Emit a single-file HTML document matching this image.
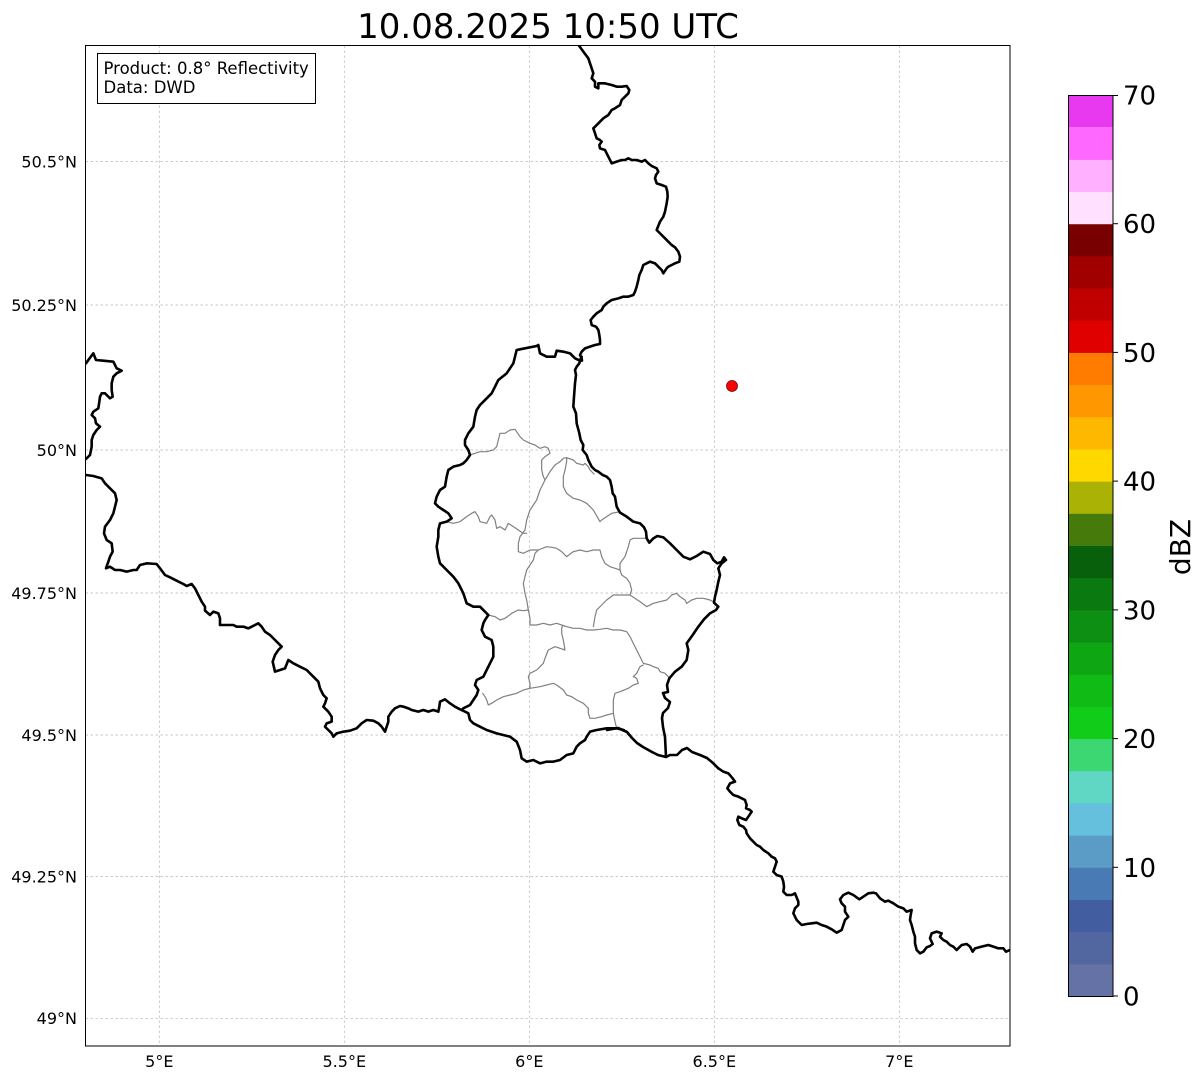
<!DOCTYPE html>
<html>
<head>
<meta charset="utf-8">
<style>
html,body{margin:0;padding:0;background:#fff;}
svg{display:block;}
text{font-family:"DejaVu Sans","Liberation Sans",sans-serif;fill:#000;}
</style>
</head>
<body>
<svg width="1202" height="1081" viewBox="0 0 1202 1081" xmlns="http://www.w3.org/2000/svg">
<defs>
<clipPath id="plot"><rect x="85.5" y="45.5" width="924.5" height="1000.5"/></clipPath>
</defs>
<rect x="0" y="0" width="1202" height="1081" fill="#fff"/>

<!-- Title -->
<text x="548" y="38" font-size="34" text-anchor="middle">10.08.2025 10:50 UTC</text>

<!-- Gridlines -->
<g stroke="#b5b5b5" stroke-width="0.7" stroke-dasharray="2.5,2.5" fill="none">
<line x1="159.3" y1="45.5" x2="159.3" y2="1046"/>
<line x1="344.3" y1="45.5" x2="344.3" y2="1046"/>
<line x1="529.3" y1="45.5" x2="529.3" y2="1046"/>
<line x1="714.3" y1="45.5" x2="714.3" y2="1046"/>
<line x1="899.3" y1="45.5" x2="899.3" y2="1046"/>
<line x1="85.5" y1="161.5" x2="1010" y2="161.5"/>
<line x1="85.5" y1="305" x2="1010" y2="305"/>
<line x1="85.5" y1="450" x2="1010" y2="450"/>
<line x1="85.5" y1="593" x2="1010" y2="593"/>
<line x1="85.5" y1="735" x2="1010" y2="735"/>
<line x1="85.5" y1="876.5" x2="1010" y2="876.5"/>
<line x1="85.5" y1="1018.3" x2="1010" y2="1018.3"/>
</g>

<g clip-path="url(#plot)" fill="none" stroke-linejoin="round" stroke-linecap="round">
<!-- Luxembourg canton boundaries (gray) -->
<g transform="translate(420 330) scale(0.333333)" stroke="#808080" stroke-width="1.2">
<polyline vector-effect="non-scaling-stroke" points="150,375 165,370 180,365 200,365 220,360 230,350 235,330 240,310 255,310 270,300 285,298 300,320 310,330 330,340 345,345 360,355 375,350 385,355 390,370 375,380 365,390 365,420 370,440 375,450 360,480 350,510 330,540 320,570 315,600 300,620 295,640 295,665 310,670 330,660 355,660"/>
<polyline vector-effect="non-scaling-stroke" points="375,450 390,425 405,405 420,395 430,385 440,383 440,395 435,420 430,440 430,470 440,490 460,505 480,510 500,520 520,540 540,575 545,570 560,560 575,550 595,546"/>
<polyline vector-effect="non-scaling-stroke" points="440,383 460,390 470,400 490,405 495,400 505,410 510,420 522,432"/>
<polyline vector-effect="non-scaling-stroke" points="80,575 100,580 120,575 140,560 155,550 165,545 175,560 180,575 200,580 210,560 215,555 225,570 230,595 240,590 255,600 265,580 280,590 295,600 310,610 320,610"/>
<polyline vector-effect="non-scaling-stroke" points="355,660 380,650 395,652 410,655 425,665 440,680 460,665 480,660 500,665 520,660 540,660 545,680 555,700 570,710 585,715 600,720 600,700 615,680 625,650 630,630 640,625 665,625 682,625"/>
<polyline vector-effect="non-scaling-stroke" points="600,720 605,735 620,745 630,760 635,780 630,795 600,795 580,795 560,810 545,825 530,840 525,860 520,890"/>
<polyline vector-effect="non-scaling-stroke" points="630,795 645,805 660,815 680,830 700,820 720,815 740,810 755,795 770,790 780,800 795,810 800,820 815,810 830,805 850,805 870,810 880,815 890,825"/>
<polyline vector-effect="non-scaling-stroke" points="355,660 345,670 340,690 330,705 320,720 315,740 310,760 315,790 320,810 325,840 310,842 295,840 275,850 255,865 240,870 225,860 205,855"/>
<polyline vector-effect="non-scaling-stroke" points="325,840 330,865 330,885 350,885 370,880 390,885 410,880 425,885 440,890 460,895 480,895 500,900 520,900 540,898 560,895 580,900 600,900 620,905 630,920 640,940 650,960 660,980 670,1000 690,1005 700,1010 715,1015 720,1025 735,1030 745,1040"/>
<polyline vector-effect="non-scaling-stroke" points="428,887 425,895 425,910 430,930 435,960 420,955 405,950 385,960 375,985 370,1000 360,1010 350,1020 330,1030 325,1040 330,1060 330,1075 310,1080 290,1090 270,1095 250,1100 230,1110 215,1120 205,1125 200,1110 195,1100 188,1090"/>
<polyline vector-effect="non-scaling-stroke" points="330,1075 360,1070 380,1065 400,1060 410,1065 430,1080 440,1095 455,1100 470,1110 490,1120 505,1135 505,1150 510,1165 525,1165 545,1160 560,1155 580,1150 580,1130 580,1110 585,1090 600,1085 625,1075 640,1065 655,1060 650,1045 640,1040 650,1030 660,1010 670,1005"/>
<polyline vector-effect="non-scaling-stroke" points="580,1150 585,1175 590,1195"/>
</g>

<!-- Black borders: Luxembourg -->
<g transform="translate(420 330) scale(0.333333)" stroke="#000">
<polyline vector-effect="non-scaling-stroke" stroke-width="2.6" points="125,1140 130,1135 150,1125 160,1110 170,1095 175,1080 165,1065 170,1050 190,1040 200,1020 210,1000 220,980 220,950 215,930 195,920 185,900 190,880 195,870 205,855 195,845 180,830 160,830 140,820 130,790 115,760 100,740 80,720 60,700 55,680 50,650 55,620 55,600 60,580 80,575 95,565 85,550 70,540 55,530 45,520 50,500 60,480 75,470 80,440 85,420 100,410 120,405 130,400 140,390 150,375 145,360 135,345 135,330 145,310 160,290 165,260 170,240 180,225 190,215 205,200 215,190 225,170 235,150 260,130 280,100 285,80 290,60 300,58 350,48 355,45 360,70 380,80 405,80 410,62 430,65 450,70 465,85 480,92"/>
<polyline vector-effect="non-scaling-stroke" stroke-width="2.6" points="125,1140 145,1150 150,1170 160,1180 180,1190 200,1200 230,1210 270,1220 290,1235 300,1260 305,1285 320,1295 340,1290 360,1300 380,1295 400,1295 420,1290 440,1275 460,1270 470,1250 480,1240 495,1230 500,1220 510,1205 530,1200 560,1195 590,1195 611,1200"/>
<polyline vector-effect="non-scaling-stroke" stroke-width="2.6" points="485,80 480,92 478,100 470,110 465,120 468,135 465,160 462,200 460,230 468,250 470,280 478,310 482,330 490,345 488,360 500,375 505,390 515,410 525,420 535,425 548,435 560,440 570,450 575,470 578,490 585,500 590,530 600,548 620,560 640,575 660,580 672,592 678,605 680,625 688,638 700,625 712,618 730,622 750,640 770,660 790,680 810,688 830,678 850,665 870,672 880,690 892,700 905,695 912,682 918,690 905,700 895,715 900,735 895,755 890,780 885,800 882,818 895,830 888,840 870,850 852,868 835,890 818,915 800,940 805,960 800,990 785,1010 765,1025 748,1045"/>
</g>
<!-- Moselle / southern junction (page coords) -->
<g stroke="#000" stroke-width="2.6">
<polyline points="669.3,678.3 667,685 668,692 663,693 665,698 670,702 668,708 663,713 662,718 663,727 665,737 666,757"/>
<polyline points="607,730 618,728 627,732 632,738 637,743 643,747 652,752 658,755 666,757 670,755 677,755 682,750 687,748 692,752 700,755 707,758 713,763 718.3,768.3"/>
</g>

<!-- Black borders: Belgium-Germany north -->
<g transform="translate(540 40) scale(0.333333)" stroke="#000">
<polyline vector-effect="non-scaling-stroke" stroke-width="2.6" points="112,10 130,35 145,55 150,70 155,85 160,100 155,115 165,125 165,140 175,145 175,130 195,130 215,135 230,140 245,140 260,138 268,150 265,160 255,170 245,180 240,195 225,205 215,210 205,225 190,235 180,245 165,260 160,265 165,280 170,295 180,300 185,305 178,315 180,325 195,330 200,340 205,350 215,370 230,365 245,360 255,360 265,355 275,360 290,360 305,365 315,360 325,370 335,378 350,385 355,395 348,405 345,415 350,430 365,435 378,440 382,455 383,470 380,490 375,515 370,530 360,545 350,570 365,585 375,595 385,605 395,615 405,622 415,635 420,650 418,665 405,670 395,675 385,680 380,685 370,700 365,690 355,680 345,670 330,665 320,670 310,675 305,690 298,705 295,720 290,740 285,755 280,765 265,770 250,770 235,775 215,780 200,790 190,800 185,810 170,820 160,830 152,840 155,855 168,860 175,870 178,885 180,900 180,912 165,915 150,920 135,925 125,935 120,945 125,955 126,962"/>
</g>

<!-- Black borders: West (France-Belgium) -->
<g transform="translate(80 340) scale(0.333333)" stroke="#000">
<polyline vector-effect="non-scaling-stroke" stroke-width="2.6" points="10,75 18,70 25,60 40,40 48,60 70,62 100,65 110,85 125,92 110,100 100,110 95,130 95,150 98,170 90,175 80,165 75,160 65,160 60,170 58,185 55,205 40,215 35,225 45,235 48,250 60,260 50,270 40,285 35,300 35,320 30,345 20,355 10,362"/>
<polyline vector-effect="non-scaling-stroke" stroke-width="2.6" points="10,405 18,405 40,408 65,415 75,430 90,445 105,460 110,480 105,500 100,520 90,540 75,560 72,580 80,600 95,610 98,635 90,650 85,665 78,685 90,680 105,690 120,690 140,695 160,690 170,690 180,675 200,670 230,672 240,685 255,705 270,712 290,722 310,732 320,738 335,732 345,745 355,765 365,785 375,800 375,812 390,825 400,815 415,820 420,835 420,855 440,855 460,855 470,860 490,860 505,865 515,860 525,855 535,850 545,860 555,875 570,885 585,900 595,910 605,920 595,930 585,945 578,965 585,995 600,990 615,985 625,960 640,970 660,980 680,990 700,1010 715,1025 720,1045 730,1065 740,1075 735,1090 730,1100 745,1115 755,1130 755,1145 740,1150 735,1160 745,1170 755,1180 760,1190 770,1180 790,1175 810,1172 830,1165 845,1150 860,1140 880,1142 895,1150 905,1160 915,1175 920,1160 925,1145 925,1130 935,1115 945,1105 960,1098 970,1100 985,1105 995,1110 1015,1115 1030,1110 1045,1115 1060,1110 1075,1115 1078,1100 1080,1085 1095,1078 1110,1090 1125,1100 1140,1108 1145,1110"/>
</g>

<!-- Black borders: France-Germany -->
<g transform="translate(640 740) scale(0.333333)" stroke="#000">
<polyline vector-effect="non-scaling-stroke" stroke-width="2.6" points="235,85 250,95 265,100 278,115 285,125 270,130 262,145 270,155 280,165 295,170 305,175 315,180 320,195 318,205 330,210 335,215 325,230 318,240 305,235 295,230 292,240 298,255 310,260 318,270 320,280 330,295 340,305 350,315 360,320 370,330 385,340 395,350 405,355 410,365 405,380 400,395 410,405 425,410 430,425 432,440 430,455 440,465 455,465 465,460 475,485 475,495 465,505 460,520 470,540 485,555 500,552 515,550 530,548 545,555 560,560 575,568 590,578 605,570 610,555 615,540 625,530 615,515 615,500 605,490 600,478 610,465 625,458 640,465 658,478 670,470 685,460 700,458 708,460 720,475 735,485 745,482 760,490 775,500 790,505 800,515 815,510 812,525 810,540 815,555 820,575 825,590 825,610 830,630 840,640 850,635 860,622 870,618 878,612 870,595 875,580 890,575 905,580 900,590 910,600 920,605 930,615 940,620 950,630 955,625 965,615 980,612 990,620 998,635 1005,625 1025,620 1045,615 1060,620 1075,625 1090,625 1098,635 1110,630 1125,628"/>
</g>

<!-- Radar site -->
<circle cx="732" cy="386" r="5.5" fill="#ff0000" stroke="#7a0000" stroke-width="0.8"/>
</g>

<!-- Plot frame -->
<rect x="85.5" y="45.5" width="924.5" height="1000.5" fill="none" stroke="#000" stroke-width="1"/>

<!-- Info box -->
<rect x="97.5" y="53.5" width="218" height="50" fill="#fff" stroke="#000" stroke-width="1"/>
<text x="103.5" y="74" font-size="16.5">Product: 0.8° Reflectivity</text>
<text x="103.5" y="93" font-size="16.5">Data: DWD</text>

<!-- Y labels -->
<g font-size="16" text-anchor="end">
<text x="77" y="167.3">50.5°N</text>
<text x="77" y="310.8">50.25°N</text>
<text x="77" y="455.8">50°N</text>
<text x="77" y="598.8">49.75°N</text>
<text x="77" y="740.8">49.5°N</text>
<text x="77" y="882.3">49.25°N</text>
<text x="77" y="1024.1">49°N</text>
</g>
<!-- X labels -->
<g font-size="16" text-anchor="middle">
<text x="159.3" y="1067">5°E</text>
<text x="344.3" y="1067">5.5°E</text>
<text x="529.3" y="1067">6°E</text>
<text x="714.3" y="1067">6.5°E</text>
<text x="899.3" y="1067">7°E</text>
</g>

<!-- Colorbar -->
<g>
<rect x="1068" y="963.82" width="45" height="32.68" fill="#6472a6"/>
<rect x="1068" y="931.64" width="45" height="32.68" fill="#52679f"/>
<rect x="1068" y="899.46" width="45" height="32.68" fill="#425ea0"/>
<rect x="1068" y="867.29" width="45" height="32.68" fill="#4a7ab3"/>
<rect x="1068" y="835.11" width="45" height="32.68" fill="#5a9cc6"/>
<rect x="1068" y="802.93" width="45" height="32.68" fill="#64c0dc"/>
<rect x="1068" y="770.75" width="45" height="32.68" fill="#60d6c4"/>
<rect x="1068" y="738.57" width="45" height="32.68" fill="#3cd672"/>
<rect x="1068" y="706.39" width="45" height="32.68" fill="#12cc1a"/>
<rect x="1068" y="674.21" width="45" height="32.68" fill="#10bb16"/>
<rect x="1068" y="642.04" width="45" height="32.68" fill="#0ea612"/>
<rect x="1068" y="609.86" width="45" height="32.68" fill="#0c8f12"/>
<rect x="1068" y="577.68" width="45" height="32.68" fill="#0a7a10"/>
<rect x="1068" y="545.50" width="45" height="32.68" fill="#08600c"/>
<rect x="1068" y="513.32" width="45" height="32.68" fill="#467a0a"/>
<rect x="1068" y="481.14" width="45" height="32.68" fill="#aab206"/>
<rect x="1068" y="448.96" width="45" height="32.68" fill="#ffd800"/>
<rect x="1068" y="416.79" width="45" height="32.68" fill="#ffb800"/>
<rect x="1068" y="384.61" width="45" height="32.68" fill="#ff9800"/>
<rect x="1068" y="352.43" width="45" height="32.68" fill="#ff7c00"/>
<rect x="1068" y="320.25" width="45" height="32.68" fill="#e00000"/>
<rect x="1068" y="288.07" width="45" height="32.68" fill="#c00000"/>
<rect x="1068" y="255.89" width="45" height="32.68" fill="#a00000"/>
<rect x="1068" y="223.71" width="45" height="32.68" fill="#780000"/>
<rect x="1068" y="191.54" width="45" height="32.68" fill="#ffe0ff"/>
<rect x="1068" y="159.36" width="45" height="32.68" fill="#ffb0ff"/>
<rect x="1068" y="127.18" width="45" height="32.68" fill="#ff68ff"/>
<rect x="1068" y="95.00" width="45" height="32.18" fill="#e838f0"/>
<rect x="1068.5" y="95.5" width="44.5" height="901" fill="none" stroke="#000" stroke-width="1"/>
<g stroke="#000" stroke-width="1">
<line x1="1113" y1="996" x2="1118" y2="996"/>
<line x1="1113" y1="867.3" x2="1118" y2="867.3"/>
<line x1="1113" y1="738.6" x2="1118" y2="738.6"/>
<line x1="1113" y1="609.9" x2="1118" y2="609.9"/>
<line x1="1113" y1="481.1" x2="1118" y2="481.1"/>
<line x1="1113" y1="352.4" x2="1118" y2="352.4"/>
<line x1="1113" y1="223.7" x2="1118" y2="223.7"/>
<line x1="1113" y1="95.5" x2="1118" y2="95.5"/>
</g>
<g font-size="26">
<text x="1123" y="1005.5">0</text>
<text x="1123" y="876.8">10</text>
<text x="1123" y="748.1">20</text>
<text x="1123" y="619.4">30</text>
<text x="1123" y="490.6">40</text>
<text x="1123" y="361.9">50</text>
<text x="1123" y="233.2">60</text>
<text x="1123" y="104.5">70</text>
</g>
<text transform="translate(1190 547) rotate(-90)" font-size="28" text-anchor="middle">dBZ</text>
</g>
</svg>
</body>
</html>
